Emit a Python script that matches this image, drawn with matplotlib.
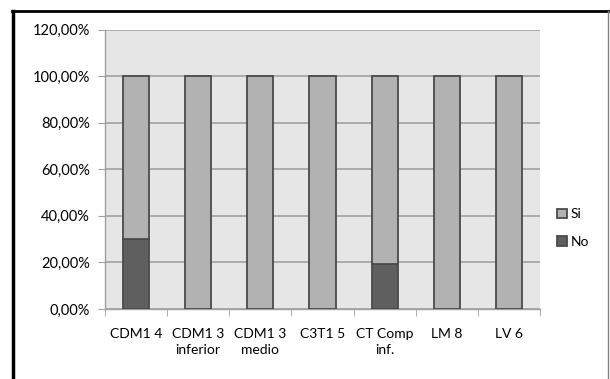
import numpy as np
import matplotlib.pyplot as plt
from matplotlib.lines import Line2D
from matplotlib.ticker import FixedLocator

categories = ["CDM1 4", "CDM1 3\ninferior", "CDM1 3\nmedio", "C3T1 5",
              "CT Comp\ninf.", "LM 8", "LV 6"]
no_vals = [30.0, 0.0, 0.0, 0.0, 19.5, 0.0, 0.0]
si_vals = [70.0, 100.0, 100.0, 100.0, 80.5, 100.0, 100.0]
y_ticks = [0, 20, 40, 60, 80, 100, 120]

plt.rcParams['font.family'] = ['Lato', 'DejaVu Sans']

fig = plt.figure(figsize=(6.1, 3.79), dpi=100)
ax = fig.add_axes([105 / 610, 1 - 309 / 379, 435 / 610, 279.5 / 379])

x = np.arange(len(categories))
edge = "#4a4a4a"
ax.bar(x, no_vals, width=0.42, color="#5f5f5f", edgecolor=edge, linewidth=1.3,
       label="No", zorder=3)
ax.bar(x, si_vals, width=0.42, bottom=no_vals, color="#b2b2b2", edgecolor=edge,
       linewidth=1.3, label="Si", zorder=3)

ax.set_xlim(-0.5, len(categories) - 0.5)
ax.set_ylim(0, 120)
ax.set_facecolor("#e6e6e6")
ax.set_yticks(y_ticks)
ax.set_yticklabels([f"{v:.2f}%".replace(".", ",") for v in y_ticks], fontsize=10.5)
ax.yaxis.grid(True, color="#a6a6a6", linewidth=1.3, zorder=1)
ax.set_axisbelow(True)

ax.set_xticks(x)
ax.set_xticklabels(categories, fontsize=10, linespacing=1.35)
ax.xaxis.set_minor_locator(FixedLocator(np.arange(-0.5, len(categories), 1.0)))
ax.tick_params(axis="x", which="major", length=0, pad=14)
ax.tick_params(axis="x", which="minor", length=5, color="#a0a0a0")
ax.tick_params(axis="y", length=5, color="#a0a0a0", pad=6)

for s in ["top", "right"]:
    ax.spines[s].set_visible(False)
for s in ["left", "bottom"]:
    ax.spines[s].set_color("#a0a0a0")
    ax.spines[s].set_linewidth(1.0)

handles, labels = ax.get_legend_handles_labels()
ax.legend(handles[::-1], labels[::-1], loc="center left",
          bbox_to_anchor=(1.01, 0.19, 0.2, 0.2), frameon=False, fontsize=10,
          handlelength=0.7, handleheight=0.7, handletextpad=0.3,
          labelspacing=1.1)

# outer chart frame
fig.add_artist(Line2D([13 / 610, 13 / 610], [0, 1 - 11 / 379], color="black",
                      linewidth=2.5, transform=fig.transFigure))
fig.add_artist(Line2D([12 / 610, 608 / 610], [1 - 11 / 379, 1 - 11 / 379],
                      color="black", linewidth=2.0, transform=fig.transFigure))
fig.add_artist(Line2D([608 / 610, 608 / 610], [0, 1 - 11 / 379], color="#808080",
                      linewidth=1.0, transform=fig.transFigure))

fig.savefig("out.png", dpi=100)
